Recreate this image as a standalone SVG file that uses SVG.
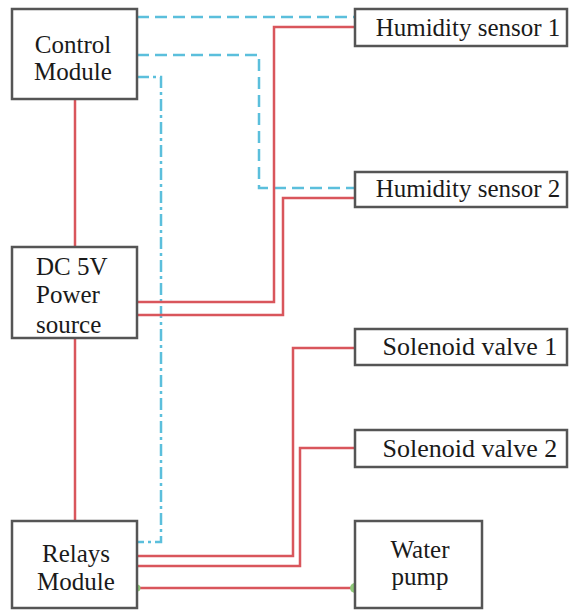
<svg xmlns="http://www.w3.org/2000/svg" width="573" height="610" viewBox="0 0 573 610">
<style>
.box{fill:#fff;stroke:#555;stroke-width:2.5}
.t{font-family:'Liberation Serif','DejaVu Serif',serif;font-size:25px;fill:#1a1a1a}
.s{font-size:26px}
.c{text-anchor:middle}
.red{fill:none;stroke:#d9565c;stroke-width:2.5}
.blue{fill:none;stroke:#5bbfdc;stroke-width:2.5;stroke-dasharray:12 6}
.bluedd{fill:none;stroke:#5bbfdc;stroke-width:2.5;stroke-dasharray:12 4 3 4}
</style>
<rect width="573" height="610" fill="#fff"/>
<g id="connectors">
<path class="blue" d="M137 17H355"/>
<path class="blue" d="M137 55H259V188H355"/>
<path class="bluedd" d="M137 77H161V542H137"/>
<path class="red" d="M75 99V247"/>
<path class="red" d="M75 338V521"/>
<path class="red" d="M137 302H274V27H355"/>
<path class="red" d="M137 315H283V198H355"/>
<path class="red" d="M137 556H293V348H355"/>
<path class="red" d="M137 566H300V448H355"/>
<path class="red" d="M137 588H355"/>
<circle cx="137" cy="588" r="3.5" fill="#8fc97a"/>
<circle cx="355" cy="588" r="5" fill="#8fc97a"/>
</g>
<g id="control-module">
<rect class="box" x="12" y="9" width="125" height="90"/>
<text class="t c" x="73" y="53">Control</text>
<text class="t c" x="73" y="80">Module</text>
</g>
<g id="dc-power">
<rect class="box" x="12" y="247" width="125" height="91"/>
<text class="t" x="36" y="275">DC 5V</text>
<text class="t" x="36" y="303">Power</text>
<text class="t" x="36" y="333">source</text>
</g>
<g id="relays-module">
<rect class="box" x="12" y="521" width="125" height="87"/>
<text class="t c" x="76" y="562">Relays</text>
<text class="t c" x="76" y="590">Module</text>
</g>
<g id="humidity-sensor-1">
<rect class="box" x="355" y="9" width="212" height="37"/>
<text class="t c" x="468" y="36">Humidity sensor 1</text>
</g>
<g id="humidity-sensor-2">
<rect class="box" x="355" y="172" width="212" height="35"/>
<text class="t c" x="468" y="197">Humidity sensor 2</text>
</g>
<g id="solenoid-valve-1">
<rect class="box" x="355" y="329" width="212" height="36"/>
<text class="t s c" x="470" y="355">Solenoid valve 1</text>
</g>
<g id="solenoid-valve-2">
<rect class="box" x="355" y="430" width="212" height="37"/>
<text class="t s c" x="470" y="457">Solenoid valve 2</text>
</g>
<g id="water-pump">
<rect class="box" x="355" y="521" width="127" height="87"/>
<text class="t c" x="420" y="558">Water</text>
<text class="t c" x="420" y="585">pump</text>
</g>
</svg>
